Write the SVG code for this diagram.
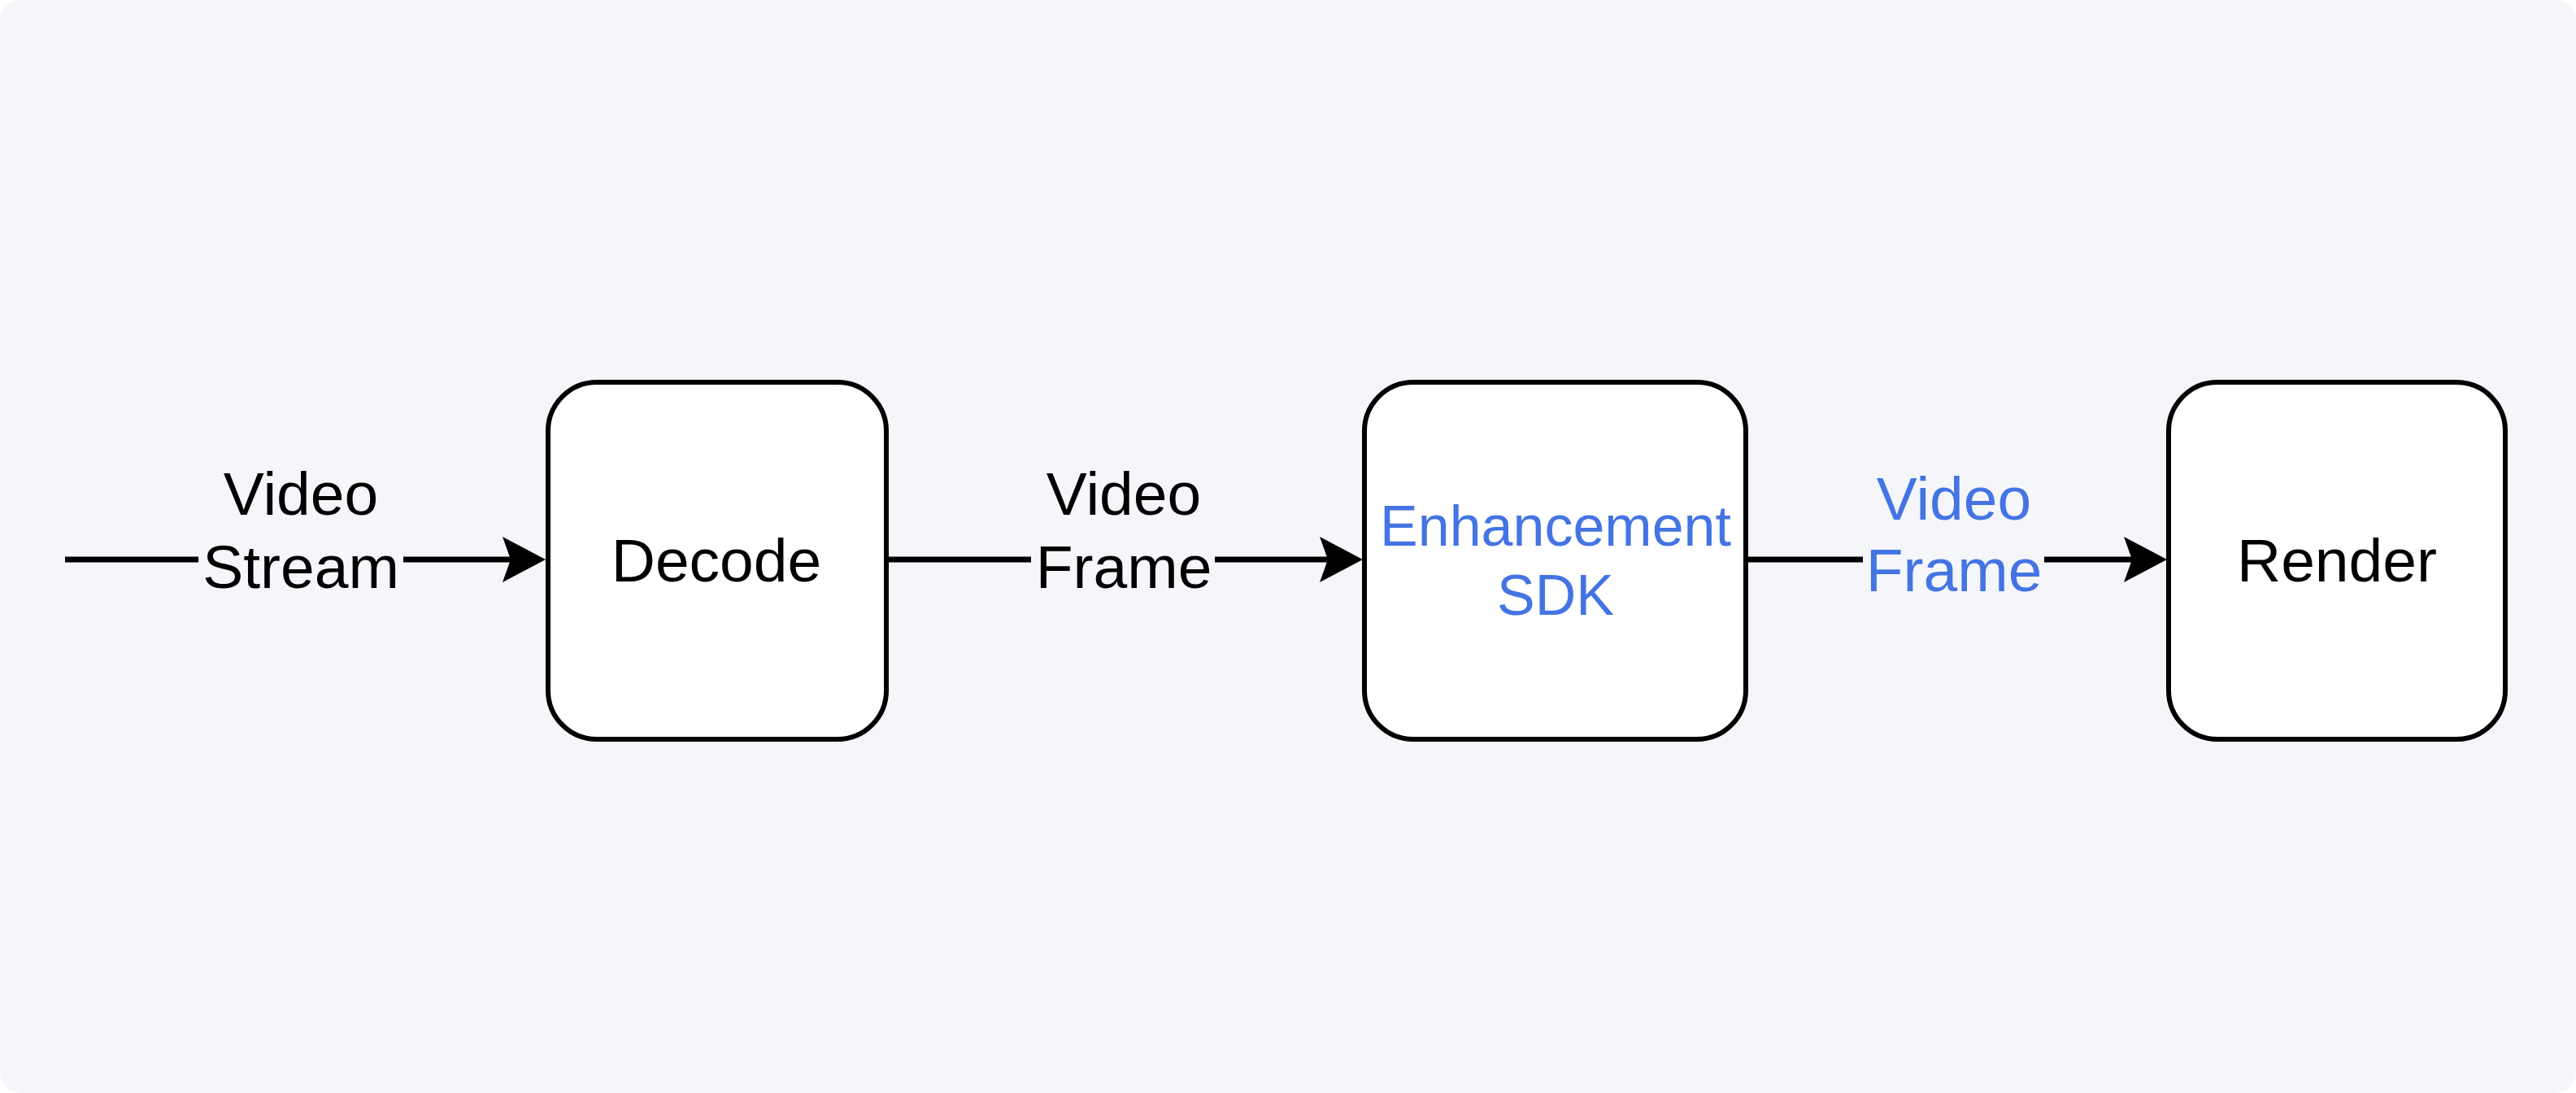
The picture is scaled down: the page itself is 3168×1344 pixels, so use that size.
<svg xmlns="http://www.w3.org/2000/svg" width="3168" height="1344" viewBox="0 0 3168 1344">
  <style>
    .box { fill: #FFFFFF; stroke: #000000; stroke-width: 6; }
    .edge { stroke: #000000; stroke-width: 7; fill: none; }
    .lbl { font-family: "Liberation Sans", Arial, Helvetica, sans-serif; font-size: 75px; text-anchor: middle; fill: #000000; }
    .blue { fill: #4474E4; }
    .lblbg { fill: #F5F6FA; }
  </style>
  <defs>
    <marker id="arrow" markerUnits="userSpaceOnUse" markerWidth="60" markerHeight="60" viewBox="-55 -30 60 60" refX="-8" refY="0" orient="auto">
      <path d="M0,0 L-53,-28 L-43,0 L-53,28 Z" fill="#000000"/>
    </marker>
  </defs>
  <rect x="0" y="0" width="3168" height="1344" fill="#FFFFFF"/>
  <rect x="0" y="0" width="3168" height="1344" rx="26" ry="26" fill="#F5F6FA"/>

  <g id="connectors">
    <g id="edge-stream">
      <line class="edge" x1="80" y1="688" x2="663" y2="688" marker-end="url(#arrow)"/>
      <rect class="lblbg" x="244" y="650" width="252" height="80"/>
      <text class="lbl" x="370" y="633">Video</text>
      <text class="lbl" x="370" y="723">Stream</text>
    </g>
    <g id="edge-frame1">
      <line class="edge" x1="1091" y1="688" x2="1668" y2="688" marker-end="url(#arrow)"/>
      <rect class="lblbg" x="1268" y="650" width="226" height="80"/>
      <text class="lbl" x="1382" y="633">Video</text>
      <text class="lbl" x="1382" y="723">Frame</text>
    </g>
    <g id="edge-frame2">
      <line class="edge" x1="2149" y1="688" x2="2657" y2="688" marker-end="url(#arrow)"/>
      <rect class="lblbg" x="2291" y="650" width="223" height="80"/>
      <text class="lbl blue" x="2403" y="639">Video</text>
      <text class="lbl blue" x="2403" y="727">Frame</text>
    </g>
  </g>

  <g id="node-decode">
    <rect class="box" x="674" y="470" width="416" height="439" rx="60" ry="60"/>
    <text class="lbl" x="881" y="715">Decode</text>
  </g>
  <g id="node-enhancement">
    <rect class="box" x="1678" y="470" width="469" height="439" rx="60" ry="60"/>
    <text class="lbl blue" x="1913" y="671" style="font-size:70px">Enhancement</text>
    <text class="lbl blue" x="1913" y="756" style="font-size:70px">SDK</text>
  </g>
  <g id="node-render">
    <rect class="box" x="2667" y="470" width="414" height="439" rx="60" ry="60"/>
    <text class="lbl" x="2874" y="715">Render</text>
  </g>
</svg>
